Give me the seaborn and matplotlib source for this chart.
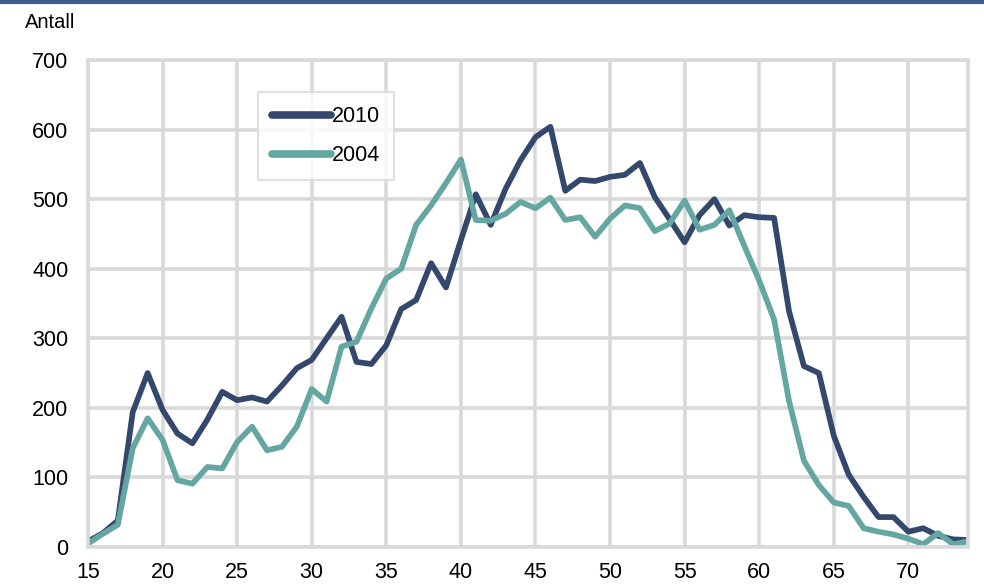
import pandas as pd
import matplotlib.pyplot as plt
import seaborn as sns

# --- Data: antall etter alder ---
ages = list(range(15, 75))

antall_2010 = [8, 20, 38, 194, 250, 197, 163, 149, 183, 223,
               211, 215, 209, 232, 257, 269, 300, 331, 266, 263,
               290, 342, 355, 408, 373, 441, 507, 463, 515, 556,
               589, 604, 512, 528, 526, 532, 535, 552, 503, 471,
               438, 477, 500, 462, 477, 474, 473, 339, 260, 250,
               160, 104, 72, 43, 43, 22, 27, 16, 11, 10]

antall_2004 = [5, 19, 32, 142, 185, 154, 96, 91, 115, 113,
               151, 173, 139, 144, 173, 227, 209, 288, 295, 343,
               386, 400, 463, 491, 523, 557, 470, 469, 479, 496,
               487, 502, 470, 474, 446, 472, 491, 487, 454, 465,
               498, 456, 463, 484, 433, 383, 327, 210, 124, 89,
               64, 59, 27, 22, 18, 12, 4, 20, 4, 8]

df = pd.DataFrame({
    'alder': ages * 2,
    'antall': antall_2010 + antall_2004,
    'aar': ['2010'] * len(ages) + ['2004'] * len(ages),
})

farger = {'2010': '#34486e', '2004': '#64a6a1'}
grid_col = '#d9d9d9'

sns.set_style('white')
plt.rcParams['font.family'] = ['Liberation Sans', 'DejaVu Sans']
plt.rcParams['text.color'] = 'black'
plt.rcParams['xtick.color'] = 'black'
plt.rcParams['ytick.color'] = 'black'

fig = plt.figure(figsize=(9.84, 5.88), dpi=100)
ax = fig.add_axes([88 / 984, 1 - 547 / 588, 880 / 984, 487 / 588])

sns.lineplot(data=df, x='alder', y='antall', hue='aar', hue_order=['2010', '2004'],
             palette=farger, linewidth=4.1, ax=ax, legend=True)
for ln in ax.lines:
    ln.set_solid_joinstyle('round')
    ln.set_solid_capstyle('butt')

ax.set_xlim(15, 74)
ax.set_ylim(0, 700)
ax.set_xticks(range(15, 75, 5))
ax.set_yticks(range(0, 701, 100))
ax.set_xlabel('')
ax.set_ylabel('')
ax.tick_params(axis='both', length=0, labelsize=15.5, labelcolor='black')
ax.tick_params(axis='x', pad=11)
ax.tick_params(axis='y', pad=14)
ax.grid(True, color=grid_col, linewidth=2.6)
ax.set_axisbelow(True)
for s in ax.spines.values():
    s.set_color(grid_col)
    s.set_linewidth(2.6)

leg = ax.legend(loc='upper left', bbox_to_anchor=(0.193, 0.934), fontsize=15.5,
                handlelength=2.75, handletextpad=0.05, frameon=True, fancybox=False,
                borderpad=0.65, labelspacing=0.85, borderaxespad=0)
leg.get_frame().set_edgecolor(grid_col)
leg.get_frame().set_linewidth(1.5)
for h in leg.get_lines():
    h.set_linewidth(5.5)
    h.set_solid_capstyle('round')
for t in leg.get_texts():
    t.set_color('black')

fig.text(25 / 984, 1 - 22 / 588, 'Antall', fontsize=14.5, ha='left', va='center', color='black')

# blå strek øverst
fig.add_artist(plt.Line2D([0, 1], [1 - 2 / 588, 1 - 2 / 588], color='#3f5b8c',
                          linewidth=3, transform=fig.transFigure))

fig.savefig('out.png', dpi=100)
